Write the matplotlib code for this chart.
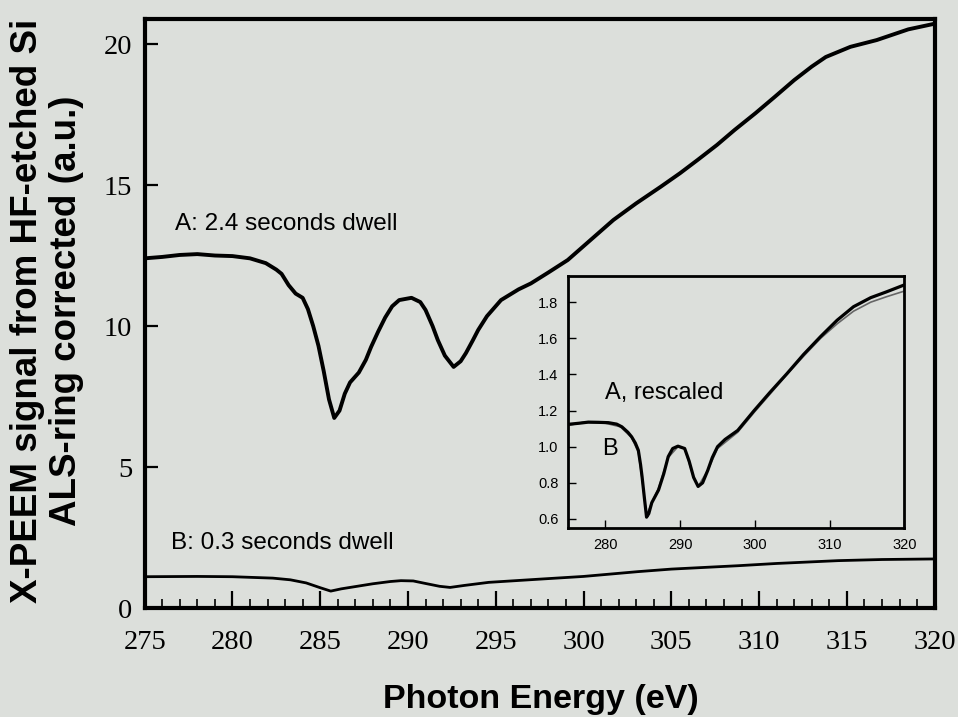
import matplotlib
matplotlib.use("Agg")
import matplotlib.pyplot as plt

# Curve A: 2.4 s dwell (main panel)
a_energy = [275.0, 276.0, 277.0, 278.0, 279.0, 280.0, 281.0, 281.9, 282.5, 282.8,
            283.2, 283.6, 284.0, 284.3, 284.6, 284.9, 285.2, 285.5, 285.8, 286.1,
            286.4, 286.7, 287.2, 287.6, 287.9, 288.3, 288.7, 289.1, 289.5, 290.2,
            290.7, 291.0, 291.4, 291.7, 292.1, 292.6, 293.0, 293.3, 293.7, 294.0,
            294.5, 295.3, 296.3, 297.0, 298.0, 299.1, 300.4, 301.7, 303.0, 304.4,
            305.5, 306.5, 307.6, 308.6, 309.8, 310.9, 312.0, 313.0, 313.8, 315.2,
            316.7, 318.5, 320.0]
a_signal = [12.40, 12.45, 12.52, 12.55, 12.50, 12.48, 12.40, 12.23, 12.00, 11.85,
            11.45, 11.15, 11.00, 10.60, 10.00, 9.30, 8.40, 7.40, 6.74, 7.00,
            7.60, 8.00, 8.35, 8.80, 9.26, 9.80, 10.30, 10.70, 10.92, 11.00,
            10.85, 10.57, 10.00, 9.50, 8.95, 8.55, 8.75, 9.04, 9.50, 9.86,
            10.35, 10.92, 11.30, 11.51, 11.90, 12.34, 13.05, 13.76, 14.35, 14.94,
            15.42, 15.89, 16.42, 16.95, 17.55, 18.13, 18.72, 19.20, 19.54, 19.90,
            20.14, 20.52, 20.72]

# Curve B: 0.3 s dwell (main panel)
b_energy = [275.0, 278.0, 280.0, 282.3, 283.3, 284.2, 285.0, 285.6, 286.2, 287.0,
            288.0, 289.0, 289.6, 290.3, 291.0, 291.8, 292.4, 293.2, 294.6, 297.4,
            300.0, 303.1, 305.0, 308.8, 311.0, 314.5, 317.0, 320.0]
b_signal = [1.11, 1.12, 1.11, 1.06, 1.00, 0.89, 0.72, 0.60, 0.68, 0.76,
            0.86, 0.94, 0.97, 0.96, 0.87, 0.77, 0.73, 0.80, 0.91, 1.02,
            1.12, 1.29, 1.38, 1.50, 1.58, 1.68, 1.72, 1.74]

# Inset: A rescaled and B
ins_a_energy = [275.3, 276.5, 277.7, 279.0, 280.4, 281.5, 282.2, 283.0, 283.5, 284.0,
                284.4, 284.7, 284.9, 285.2, 285.5, 285.8, 286.2, 287.1, 287.8, 288.4,
                289.0, 289.7, 290.6, 291.2, 291.8, 292.4, 293.0, 293.7, 294.3, 295.0,
                296.0, 297.7, 299.9, 302.0, 304.3, 306.5, 308.8, 311.0, 313.2, 315.5,
                317.6, 319.9]
ins_a_signal = [1.125, 1.130, 1.136, 1.135, 1.133, 1.125, 1.110, 1.080, 1.055, 1.020,
                0.980, 0.900, 0.834, 0.720, 0.610, 0.630, 0.690, 0.760, 0.850, 0.945,
                0.990, 1.003, 0.990, 0.920, 0.830, 0.780, 0.800, 0.870, 0.940, 1.000,
                1.040, 1.090, 1.200, 1.300, 1.405, 1.510, 1.610, 1.700, 1.775, 1.825,
                1.857, 1.894]
ins_b_energy = [275.3, 277.0, 280.0, 282.0, 283.5, 284.4, 284.9, 285.5, 286.2, 287.1,
                288.4, 289.7, 290.6, 291.8, 292.4, 293.7, 295.0, 297.7, 299.9, 302.0,
                304.3, 306.5, 308.8, 311.0, 313.2, 315.5, 317.6, 319.9]
ins_b_signal = [1.12, 1.135, 1.13, 1.11, 1.05, 0.97, 0.82, 0.62, 0.69, 0.77,
                0.94, 1.00, 0.99, 0.83, 0.78, 0.87, 0.99, 1.08, 1.19, 1.29,
                1.40, 1.50, 1.60, 1.68, 1.75, 1.80, 1.83, 1.86]

main_xticks = [275, 280, 285, 290, 295, 300, 305, 310, 315, 320]
main_yticks = [0, 5, 10, 15, 20]
ins_xticks = [280, 290, 300, 310, 320]
ins_yticks = [0.6, 0.8, 1.0, 1.2, 1.4, 1.6, 1.8]

bg = "#dcdfdb"
serif = ["Liberation Serif", "DejaVu Serif"]
sans = ["Liberation Sans", "DejaVu Sans"]

# Creating the figure
fig = plt.figure(figsize=(9.58, 7.17), dpi=100, facecolor=bg)
ax = fig.add_axes([0.151, 0.152, 0.8246, 0.822], facecolor=bg)

ax.plot(b_energy, b_signal, color="black", lw=2.0)
ax.plot(a_energy, a_signal, color="black", lw=2.8)

ax.set_xlim(275, 320)
ax.set_ylim(0, 20.9)
ax.set_xticks(main_xticks)
ax.set_xticks([e for e in range(276, 320) if e % 5 != 0], minor=True)
ax.set_yticks(main_yticks)
ax.tick_params(axis="x", which="major", direction="in", length=12, width=1.6, pad=16, labelsize=20.5)
ax.tick_params(axis="x", which="minor", direction="in", length=6.5, width=1.2)
ax.tick_params(axis="y", which="major", direction="in", length=9.5, width=1.6, pad=9, labelsize=20.5)
for lab in ax.get_xticklabels() + ax.get_yticklabels():
    lab.set_family(serif)
for sp in ax.spines.values():
    sp.set_linewidth(3)

ax.text(276.7, 13.4, "A: 2.4 seconds dwell", family=sans, fontsize=17.5, va="baseline")
ax.text(276.5, 2.09, "B: 0.3 seconds dwell", family=sans, fontsize=17.5, va="baseline")

# Axis labels
fig.text(47 / 958, 0.566, "X-PEEM signal from HF-etched Si\nALS-ring corrected (a.u.)",
         rotation=90, ha="center", va="center", multialignment="center",
         family=sans, fontweight="bold", fontsize=26.5, linespacing=1.17)
fig.text(541 / 958, 0.024, "Photon Energy (eV)", ha="center", va="center",
         family=sans, fontweight="bold", fontsize=24.5)

# Inset
ins = fig.add_axes([0.593, 0.2636, 0.351, 0.3515], facecolor=bg)
ins.plot(ins_b_energy, ins_b_signal, color="#666666", lw=1.2)
ins.plot(ins_a_energy, ins_a_signal, color="black", lw=2.3)
ins.set_xlim(275, 320)
ins.set_ylim(0.55, 1.945)
ins.set_xticks(ins_xticks)
ins.set_yticks(ins_yticks)
ins.set_yticklabels(["%.1f" % v for v in ins_yticks])
ins.tick_params(direction="in", length=5.5, width=1.0, pad=7, labelsize=10.5)
for lab in ins.get_xticklabels() + ins.get_yticklabels():
    lab.set_family(sans)
for sp in ins.spines.values():
    sp.set_linewidth(2)
ins.text(279.9, 1.264, "A, rescaled", family=sans, fontsize=17, va="baseline")
ins.text(279.5, 0.954, "B", family=sans, fontsize=17, va="baseline")

plt.savefig("out.png", dpi=100, facecolor=bg)
plt.close()
